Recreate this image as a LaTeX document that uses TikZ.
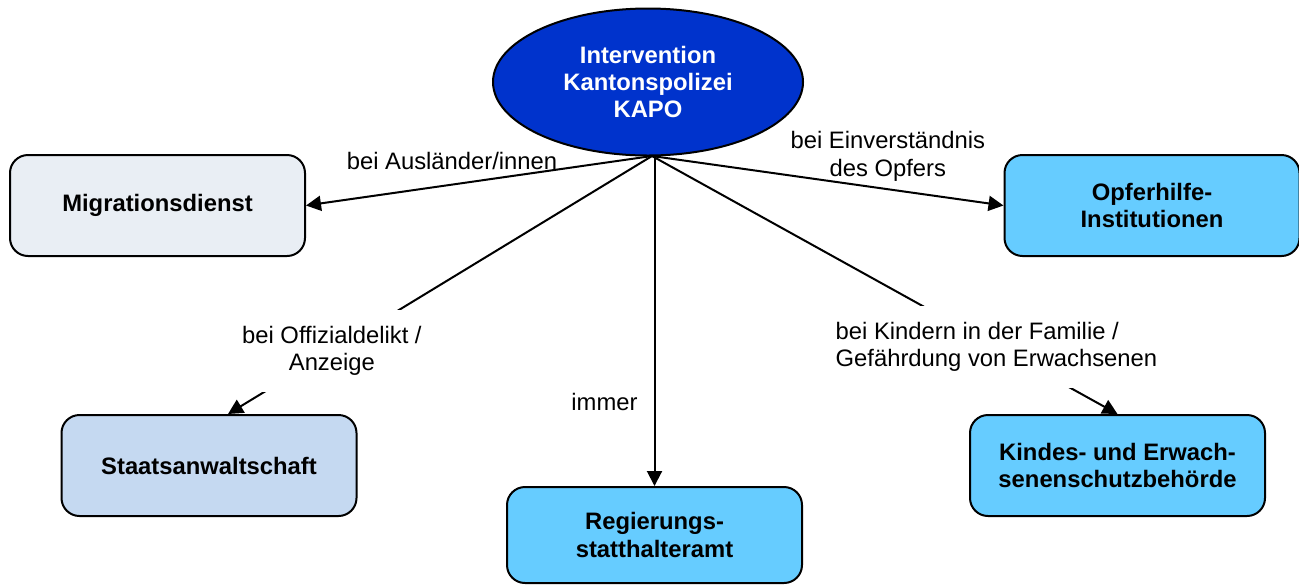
\documentclass[tikz,border=0pt]{standalone}
\usepackage{fontspec}
\setmainfont{Liberation Sans}
\usetikzlibrary{arrows.meta,shapes.geometric,calc}
\definecolor{kapoblue}{HTML}{0033CC}
\definecolor{migfill}{HTML}{E9EEF4}
\definecolor{stafill}{HTML}{C5D9F1}
\definecolor{opfill}{HTML}{66CCFF}
\newcommand{\fsz}{\fontsize{11.9}{13.7}\selectfont}
\begin{document}
\begin{tikzpicture}[x=0.5pt,y=-0.5pt,
  box/.style={draw=black, line width=1pt, rounded corners=9pt, minimum width=147.5pt, minimum height=50.5pt, align=center, font=\bfseries\fsz},
  conn/.style={draw, line width=1pt, -{Triangle[length=7.5pt,width=7.5pt]}},
  lbl/.style={font=\fsz, align=center, inner sep=0pt},
  cutlbl/.style={lbl, fill=white, inner sep=8pt}]
\useasboundingbox (0,0) rectangle (1299,585);
\node[ellipse, draw, line width=1pt, fill=kapoblue, text=white, inner sep=0pt,
      minimum width=155pt, minimum height=73.5pt, font=\bfseries\fsz, align=center]
      (kapo) at (648,82) {Intervention\\Kantonspolizei\\KAPO};
\coordinate (hub) at (652,156);
\node[box, fill=migfill] (mig) at (157.5,205.5) {Migrationsdienst};
\node[box, fill=opfill] (opf) at (1152,205.5) {Opferhilfe-\\Institutionen};
\node[box, fill=stafill] (sta) at (209,465.5) {Staatsanwaltschaft};
\node[box, fill=opfill, minimum height=48pt] (reg) at (654.5,535) {Regierungs-\\statthalteramt};
\node[box, fill=opfill] (kin) at (1117.5,465.5) {Kindes- und Erwach-\\senenschutzbehörde};
\draw[conn] (hub) -- node[lbl, pos=0.578, yshift=12pt]{bei Ausländer/innen} (mig.east);
\draw[conn] (hub) -- node[lbl, pos=0.671, yshift=16.5pt]{bei Einverständnis\\des Opfers} (opf.west);
\draw[conn] (hub) -- node[cutlbl, pos=0.755]{bei Offizialdelikt /\\Anzeige} ([xshift=9.5pt]sta.north);
\draw[conn] (hub -| reg.north) -- node[lbl, pos=0.745, left=8pt]{immer} (reg.north);
\draw[conn] (hub) -- node[cutlbl, pos=0.74, align=left]{bei Kindern in der Familie /\\Gefährdung von Erwachsenen} (kin.north);
\end{tikzpicture}
\end{document}
